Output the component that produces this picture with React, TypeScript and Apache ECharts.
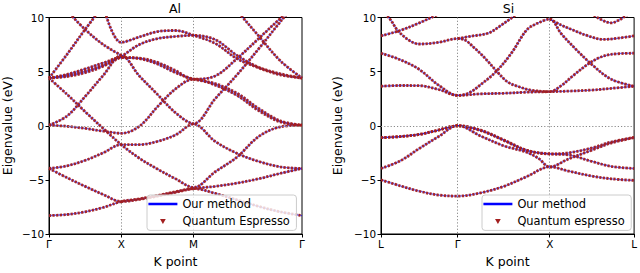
import React, { useEffect, useRef } from 'react';
import * as echarts from 'echarts';

// ---- k-path (k-point index axis) ----
const alKCount = 71;
const alTickIdx = [0, 20, 40, 70];
const alTickLabels = ['Γ', 'X', 'M', 'Γ'];
const siKCount = 67;
const siTickIdx = [0, 20, 44, 66];
const siTickLabels = ['L', 'Γ', 'X', 'L'];
const yTicks = { min: -10, max: 10, step: 5 };

// ---- Al bands: [k-point index, eigenvalue eV] ----
const al01 = [[0, -8.3], [5, -8.2], [10, -7.95], [15, -7.55], [20, -7.0], [25, -6.75], [30, -6.45], [35, -6.1], [40, -5.8], [46, -6.25], [52, -6.85], [58, -7.45], [64, -7.95], [70, -8.3]];
const al02 = [[0, -3.95], [5, -4.8], [10, -5.6], [15, -6.35], [20, -7.0], [25, -6.8], [30, -6.5], [35, -6.15], [40, -5.8], [46, -5.6], [52, -5.3], [58, -4.9], [64, -4.4], [70, -3.95]];
const al03 = [[0, -3.95], [5, -3.7], [10, -3.2], [15, -2.5], [20, -1.75], [25, -1.75], [30, -1.45], [35, -0.85], [40, 0.15], [46, -1.45], [52, -2.55], [58, -3.3], [64, -3.8], [70, -3.95]];
const al04 = [[0, 4.4], [5, 2.9], [10, 1.3], [15, -0.25], [20, -1.75], [25, -3.0], [30, -4.0], [35, -4.9], [40, -5.7], [46, -4.25], [52, -2.9], [58, -1.0], [64, -0.1], [70, 0.05]];
const al05 = [[0, 0.05], [5, -0.05], [10, -0.25], [15, -0.5], [20, -0.7], [25, -0.05], [30, 1.75], [35, 3.4], [40, 4.3], [46, 3.75], [52, 2.8], [58, 1.4], [64, 0.35], [70, 0.05]];
const al06 = [[0, 0.05], [5, 0.9], [10, 2.7], [15, 4.65], [20, 6.5], [25, 4.6], [30, 2.9], [35, 1.2], [40, 0.2], [46, 2.5], [52, 4.7], [58, 7.1], [64, 9.6], [70, 12.0]];
const al07 = [[15, 11.1], [20, 7.7], [25, 8.2], [30, 8.7], [35, 8.8], [40, 8.35], [46, 7.6], [52, 6.2], [58, 5.35], [64, 4.7], [70, 4.4]];
const al08 = [[0, 4.4], [5, 4.55], [10, 4.9], [15, 5.5], [20, 6.4], [25, 7.5], [30, 8.05], [35, 8.25], [40, 8.35], [46, 7.95], [52, 6.5], [58, 5.4], [64, 4.8], [70, 4.4]];
const al09 = [[0, 4.4], [5, 4.75], [10, 5.25], [15, 5.8], [20, 6.3], [25, 6.2], [30, 5.7], [35, 4.9], [40, 4.3], [46, 3.9], [52, 3.0], [58, 1.6], [64, 0.45], [70, 0.05]];
const al10 = [[0, 4.4], [5, 4.65], [10, 5.05], [15, 5.6], [20, 6.3], [25, 6.25], [30, 5.85], [35, 5.1], [40, 4.3], [46, 4.6], [52, 6.2], [58, 8.05], [64, 9.9], [70, 11.5]];
const al11 = [[0, 4.4], [5, 6.6], [10, 8.9], [15, 11.1]];
const al12 = [[5, 10.6], [10, 8.9], [15, 7.5], [20, 6.5]];
const al13 = [[49, 11.6], [52, 10.6], [58, 8.3], [64, 6.0], [70, 4.4]];
const alBands = [al01, al02, al03, al04, al05, al06, al07, al08, al09, al10, al11, al12, al13];

// ---- Si bands: [k-point index, eigenvalue eV] ----
const si01 = [[0, -1.1], [5, -1.0], [10, -0.8], [15, -0.4], [20, 0], [26, -0.4], [32, -1.3], [38, -2.25], [44, -2.6], [49, -2.5], [55, -2.05], [60, -1.5], [66, -1.07]];
const si02 = [[0, -1.1], [5, -1.0], [10, -0.8], [15, -0.4], [20, 0], [26, -0.95], [32, -1.85], [38, -2.45], [41, -3.0], [44, -3.8], [49, -3.05], [55, -2.25], [60, -1.6], [66, -1.1]];
const si03 = [[0, -3.95], [5, -3.25], [10, -2.1], [15, -1.0], [20, 0], [26, -0.45], [32, -1.35], [38, -2.3], [44, -2.6], [49, -2.7], [55, -3.3], [60, -3.75], [66, -3.95]];
const si04 = [[0, -5.0], [5, -5.55], [10, -6.05], [15, -6.4], [20, -6.5], [26, -6.2], [32, -5.6], [38, -4.7], [44, -3.8], [49, -4.2], [55, -4.65], [60, -4.9], [66, -5.05]];
const si05 = [[0, 3.65], [5, 3.72], [10, 3.7], [15, 3.35], [20, 2.8], [26, 2.95], [32, 3.0], [38, 3.1], [44, 3.15], [49, 3.2], [55, 3.3], [60, 3.45], [66, 3.65]];
const si06 = [[0, 6.7], [5, 6.1], [10, 5.2], [15, 3.75], [20, 2.8], [23, 3.05], [26, 3.8], [30, 5.0], [34, 6.7], [38, 8.85], [41, 9.5], [44, 9.85], [47, 8.5], [51, 7.0], [55, 5.65], [60, 4.3], [66, 3.65]];
const si07 = [[0, 10.5], [2, 10.0], [5, 8.55], [10, 7.55], [15, 7.7], [20, 8.05], [22, 7.9], [24, 7.3], [26, 6.65], [28, 5.9], [30, 5.1], [33, 4.05], [36, 3.6], [39, 3.3], [44, 3.15], [47, 3.7], [50, 4.6], [54, 5.7], [57, 6.3], [60, 6.6], [66, 6.7]];
const si08 = [[0, 8.3], [5, 8.8], [10, 9.5], [15, 10.3], [20, 11.0]];
const si09 = [[20, 8.05], [24, 8.3], [28, 8.55], [31, 9.2], [34, 9.95], [37, 10.7]];
const si10 = [[44, 9.85], [47, 9.3], [50, 8.85], [54, 8.3], [58, 7.97], [62, 8.1], [66, 8.3]];
const si11 = [[54, 10.6], [56, 10.1], [58, 9.7], [60, 9.5], [62, 9.75], [64, 10.2], [66, 10.6]];
const siBands = [si01, si02, si03, si04, si05, si06, si07, si08, si09, si10, si11];

const ourName = 'Our method';
const qeNameAl = 'Quantum Espresso';
const qeNameSi = 'Quantum espresso';

const FONT = 'DejaVu Sans';
const BLUE = '#0000ff';
const RED = '#a31f1f';
const GRIDLINE = { color: '#8a8a8a', width: 1, type: [1.2, 2] as number[] };
const barIcon = 'path://M0,0 L23,0 L23,2 L0,2 Z';
const triIcon = 'path://M0,0 L10,0 L5,8.7 Z';

const minus = (v: number) => (v < 0 ? '\u2212' + Math.abs(v) : String(v));

function xAxisFor(gridIndex: number, count: number, ticks: number[], labels: string[]) {
  const map: Record<number, string> = {};
  ticks.forEach((k, i) => { map[k] = labels[i]; });
  const cats = Array.from({ length: count }, (_, i) => String(i));
  return {
    type: 'category', gridIndex, data: cats, boundaryGap: false,
    axisLine: { show: true, onZero: false, lineStyle: { color: '#000', width: 1 } },
    axisTick: { show: true, inside: false, length: 3.5, interval: (i: number) => ticks.includes(i), lineStyle: { color: '#000' } },
    axisLabel: { interval: (i: number) => ticks.includes(i), formatter: (_v: string, i: number) => map[i] ?? '', margin: 5, fontSize: 10.4, color: '#000', fontFamily: FONT },
    splitLine: { show: true, interval: (i: number) => ticks.includes(i) && i !== 0 && i !== count - 1, lineStyle: GRIDLINE },
    name: 'K point', nameLocation: 'middle', nameGap: 21,
    nameTextStyle: { fontSize: 12.5, color: '#000', fontFamily: FONT },
  };
}

function yAxisFor(gridIndex: number, gap: number) {
  return {
    type: 'value', gridIndex, min: yTicks.min, max: yTicks.max, interval: yTicks.step,
    axisLine: { show: true, onZero: false, lineStyle: { color: '#000', width: 1 } },
    axisTick: { show: true, inside: false, length: 3.5, lineStyle: { color: '#000' } },
    axisLabel: { formatter: (v: number) => minus(v), fontSize: 10.4, color: '#000', margin: 5, fontFamily: FONT },
    splitLine: { show: false },
    name: 'Eigenvalue (eV)', nameLocation: 'middle', nameGap: gap, nameRotate: 90,
    nameTextStyle: { fontSize: 12.5, color: '#000', fontFamily: FONT },
  };
}

const zeroLine = {
  silent: true, symbol: ['none', 'none'], label: { show: false },
  lineStyle: GRIDLINE, emphasis: { disabled: true }, data: [{ yAxis: 0 }],
};

function bandSeries(bands: number[][][], gi: number, qeName: string) {
  const blue = bands.map((b, i) => ({
    type: 'line', name: ourName, xAxisIndex: gi, yAxisIndex: gi, data: b,
    smooth: 0.35, symbol: 'none', color: BLUE, silent: true, z: 2,
    lineStyle: { color: BLUE, width: 1.3, opacity: 0.6 },
    ...(i === 0 ? { markLine: zeroLine } : {}),
  }));
  const red = bands.map((b) => ({
    type: 'line', name: qeName, xAxisIndex: gi, yAxisIndex: gi, data: b,
    smooth: 0.35, symbol: 'none', color: RED, silent: true, z: 3,
    lineStyle: { color: RED, width: 2.8, type: [2.2, 1.4], opacity: 0.95 },
  }));
  return [...blue, ...red];
}

const legendCommon = {
  orient: 'vertical', top: 195, itemWidth: 29, itemHeight: 5, itemGap: 3.4,
  padding: [2, 6.6, 2, 1.4], backgroundColor: 'rgba(255,255,255,0.8)',
  borderColor: '#cccccc', borderWidth: 1, borderRadius: 3, selectedMode: false,
  itemStyle: { borderWidth: 0 },
  textStyle: { fontSize: 11.4, color: '#000', lineHeight: 14, fontFamily: FONT },
};

export default function App() {
  const ref = useRef<HTMLDivElement>(null);
  useEffect(() => {
    if (!ref.current) return;
    const chart = echarts.init(ref.current, null, { renderer: 'svg' });
    chart.setOption({
      animation: false,
      textStyle: { fontFamily: FONT },
      title: [
        { text: 'Al', left: 175, top: 2, textAlign: 'center', padding: 0, textStyle: { fontSize: 12.5, fontWeight: 'normal', color: '#000', fontFamily: FONT } },
        { text: 'Si', left: 508.5, top: 2, textAlign: 'center', padding: 0, textStyle: { fontSize: 12.5, fontWeight: 'normal', color: '#000', fontFamily: FONT } },
      ],
      grid: [
        { left: 48, top: 17.5, width: 254, height: 220, show: true, borderColor: '#000', borderWidth: 1, backgroundColor: 'transparent' },
        { left: 381, top: 17.5, width: 255, height: 220, show: true, borderColor: '#000', borderWidth: 1, backgroundColor: 'transparent' },
      ],
      xAxis: [xAxisFor(0, alKCount, alTickIdx, alTickLabels), xAxisFor(1, siKCount, siTickIdx, siTickLabels)],
      yAxis: [yAxisFor(0, 35), yAxisFor(1, 37)],
      legend: [
        { ...legendCommon, left: 147, data: [{ name: ourName, icon: barIcon }, { name: qeNameAl, icon: triIcon }] },
        { ...legendCommon, left: 482, data: [{ name: ourName, icon: barIcon }, { name: qeNameSi, icon: triIcon }] },
      ],
      series: [...bandSeries(alBands, 0, qeNameAl), ...bandSeries(siBands, 1, qeNameSi)],
    });
    return () => chart.dispose();
  }, []);
  return <div ref={ref} style={{ position: 'fixed', left: 0, top: 0, width: 640, height: 273, background: '#fff' }} />;
}
